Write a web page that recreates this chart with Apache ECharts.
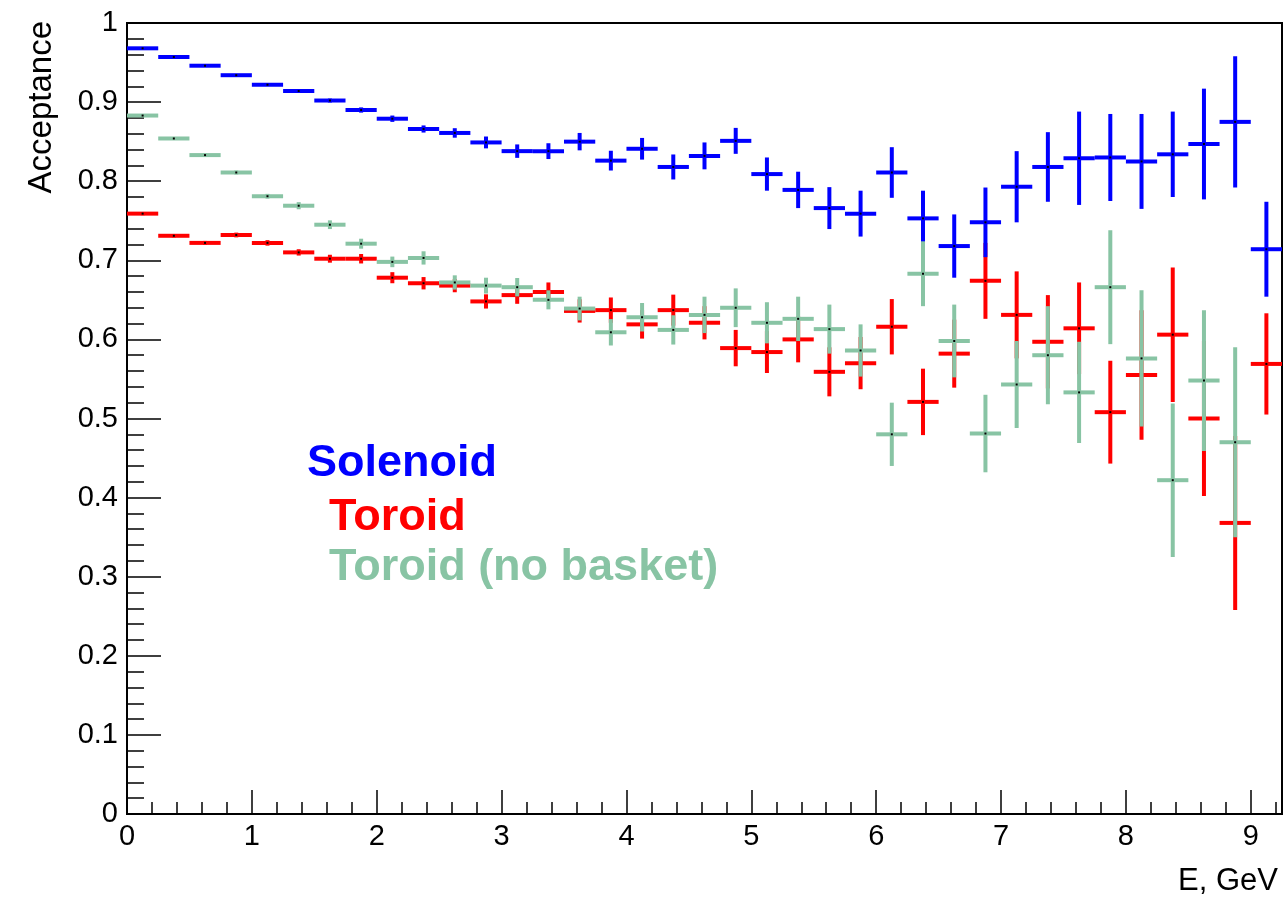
<!DOCTYPE html>
<html>
<head>
<meta charset="utf-8">
<script src="https://cdn.jsdelivr.net/npm/echarts@6/dist/echarts.min.js"></script>
<style>
html,body{margin:0;padding:0;background:#ffffff;}
#chart{width:1284px;height:902px;}
</style>
</head>
<body>
<div id="chart"></div>
<script>
// ---- data (bin centres in GeV, bin width 0.25 GeV) ----
const binCenters = [0.125,0.375,0.625,0.875,1.125,1.375,1.625,1.875,2.125,2.375,2.625,2.875,3.125,3.375,3.625,3.875,4.125,4.375,4.625,4.875,5.125,5.375,5.625,5.875,6.125,6.375,6.625,6.875,7.125,7.375,7.625,7.875,8.125,8.375,8.625,8.875,9.125];
const binWidth = 0.25;

const solenoid    = [0.968,0.957,0.946,0.934,0.922,0.914,0.902,0.890,0.879,0.866,0.861,0.849,0.838,0.838,0.850,0.826,0.841,0.818,0.832,0.851,0.809,0.789,0.766,0.759,0.811,0.753,0.718,0.748,0.793,0.818,0.829,0.830,0.825,0.834,0.847,0.875,0.714];
const solenoidErr = [0.001,0.001,0.001,0.0015,0.0015,0.002,0.0025,0.0033,0.004,0.0045,0.006,0.0075,0.0085,0.010,0.011,0.0125,0.0137,0.0158,0.017,0.0164,0.021,0.023,0.0265,0.029,0.032,0.035,0.040,0.044,0.045,0.044,0.059,0.055,0.060,0.054,0.070,0.083,0.060];

const toroid      = [0.759,0.731,0.722,0.732,0.722,0.710,0.702,0.702,0.678,0.671,0.668,0.648,0.656,0.660,0.636,0.637,0.619,0.637,0.621,0.589,0.584,0.600,0.559,0.570,0.616,0.521,0.582,0.674,0.631,0.597,0.614,0.508,0.555,0.606,0.500,0.368,0.569];
const toroidErr   = [0.002,0.002,0.0025,0.003,0.0035,0.004,0.005,0.006,0.007,0.0078,0.0084,0.009,0.011,0.012,0.0147,0.016,0.018,0.0196,0.021,0.023,0.0265,0.029,0.031,0.033,0.035,0.042,0.043,0.048,0.055,0.059,0.058,0.065,0.082,0.085,0.098,0.110,0.064];

const toroidNB    = [0.883,0.854,0.833,0.811,0.781,0.769,0.745,0.721,0.698,0.703,0.672,0.668,0.666,0.650,0.639,0.609,0.628,0.612,0.631,0.640,0.621,0.626,0.613,0.586,0.480,0.683,0.598,0.481,0.543,0.580,0.533,0.666,0.576,0.422,0.548,0.470,null];
const toroidNBErr = [0.001,0.0015,0.002,0.0025,0.003,0.0045,0.0055,0.0063,0.0067,0.0084,0.009,0.010,0.0116,0.012,0.015,0.0167,0.018,0.0185,0.023,0.0245,0.026,0.028,0.031,0.033,0.040,0.041,0.046,0.049,0.055,0.062,0.064,0.072,0.086,0.097,0.089,0.120,null];

const seriesNames = ['Solenoid','Toroid','Toroid (no basket)'];
const xTickLabels = ['0','1','2','3','4','5','6','7','8','9'];

// ---- styles ----
const COLORS = { blue:'#0000ff', red:'#ff0000', green:'#88c4a4' };
const FONT = '"Liberation Sans", Arial, Helvetica, sans-serif';

function buildData(vals, errs){
  const out = [];
  for (let i = 0; i < binCenters.length; i++){
    if (vals[i] === null || vals[i] === undefined) continue;
    out.push([binCenters[i], vals[i], errs[i]]);
  }
  return out;
}

function makeRender(color){
  return function(params, api){
    const x = api.value(0), y = api.value(1), e = api.value(2);
    const half = binWidth / 2;
    const pL = api.coord([x - half, y]);
    const pR = api.coord([x + half, y]);
    const pT = api.coord([x, y + e]);
    const pB = api.coord([x, y - e]);
    const c  = api.coord([x, y]);
    return {
      type:'group',
      children:[
        {type:'line', shape:{x1:pL[0], y1:pL[1], x2:pR[0], y2:pR[1]}, style:{stroke:color, lineWidth:4, lineCap:'butt'}},
        {type:'line', shape:{x1:pT[0], y1:pT[1], x2:pB[0], y2:pB[1]}, style:{stroke:color, lineWidth:4, lineCap:'butt'}},
        {type:'rect', shape:{x:c[0]-1, y:c[1]-1, width:2, height:2}, style:{fill:'#000'}}
      ]
    };
  };
}

const chart = echarts.init(document.getElementById('chart'), null, {renderer:'canvas'});

const option = {
  backgroundColor:'#ffffff',
  animation:false,
  grid:{
    left:127, right:2, top:23, bottom:88,
    show:true, borderColor:'#000', borderWidth:2, backgroundColor:'transparent',
    containLabel:false, outerBoundsMode:'none'
  },
  xAxis:[{
    type:'value', min:0, max:9.25, interval:1, position:'bottom',
    axisLine:{show:true, onZero:false, lineStyle:{color:'#000', width:2}},
    axisTick:{show:true, inside:true, length:24, lineStyle:{color:'#000', width:1.5}},
    axisLabel:{
      show:true, margin:8, color:'#000', fontSize:29, fontFamily:FONT,
      showMinLabel:true, showMaxLabel:true, hideOverlap:false,
      formatter:function(v){
        const idx = xTickLabels.indexOf(String(v));
        return idx >= 0 ? xTickLabels[idx] : '';
      }
    },
    splitLine:{show:false}
  },{
    type:'value', min:0, max:9.25, interval:0.2, position:'bottom',
    axisLine:{show:false, onZero:false},
    axisTick:{show:true, inside:true, length:12, lineStyle:{color:'#000', width:1.5}},
    axisLabel:{show:false},
    splitLine:{show:false}
  }],
  yAxis:{
    type:'value', min:0, max:1, interval:0.1,
    axisLine:{show:true, onZero:false, lineStyle:{color:'#000', width:2}},
    axisTick:{show:true, inside:true, length:34, lineStyle:{color:'#000', width:1.5}},
    minorTick:{show:true, splitNumber:5, length:17, lineStyle:{color:'#000', width:1.5}},
    axisLabel:{margin:9, color:'#000', fontSize:29, fontFamily:FONT},
    splitLine:{show:false}, minorSplitLine:{show:false}
  },
  series:[
    {name:seriesNames[1], type:'custom', xAxisIndex:0, yAxisIndex:0, clip:true,
     renderItem:makeRender(COLORS.red), data:buildData(toroid, toroidErr), encode:{x:0, y:1}},
    {name:seriesNames[0], type:'custom', xAxisIndex:0, yAxisIndex:0, clip:true,
     renderItem:makeRender(COLORS.blue), data:buildData(solenoid, solenoidErr), encode:{x:0, y:1}},
    {name:seriesNames[2], type:'custom', xAxisIndex:0, yAxisIndex:0, clip:true,
     renderItem:makeRender(COLORS.green), data:buildData(toroidNB, toroidNBErr), encode:{x:0, y:1}}
  ],
  graphic:[
    {type:'text', x:307, y:464, z:100,
     style:{text:seriesNames[0], fill:COLORS.blue, font:'bold 45px ' + FONT, textAlign:'left', align:'left', textVerticalAlign:'middle', verticalAlign:'middle'}},
    {type:'text', x:329, y:518, z:100,
     style:{text:seriesNames[1], fill:COLORS.red, font:'bold 45px ' + FONT, textAlign:'left', align:'left', textVerticalAlign:'middle', verticalAlign:'middle'}},
    {type:'text', x:329, y:568, z:100,
     style:{text:seriesNames[2], fill:COLORS.green, font:'bold 45px ' + FONT, textAlign:'left', align:'left', textVerticalAlign:'middle', verticalAlign:'middle'}},
    {type:'text', x:42, y:21, rotation:Math.PI/2, z:100,
     style:{text:'Acceptance', fill:'#000', font:'33px ' + FONT, textAlign:'right', align:'right', textVerticalAlign:'middle', verticalAlign:'middle'}},
    {type:'text', x:1278, y:881, z:100,
     style:{text:'E, GeV', fill:'#000', font:'31px ' + FONT, textAlign:'right', align:'right', textVerticalAlign:'middle', verticalAlign:'middle'}}
  ]
};

chart.setOption(option);
</script>
</body>
</html>
